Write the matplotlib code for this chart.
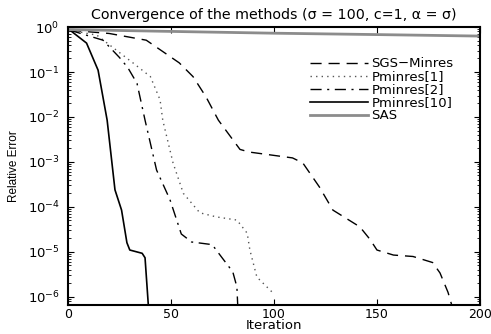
import matplotlib
matplotlib.use("Agg")
import matplotlib.pyplot as plt

plt.rcParams['font.family'] = ['DejaVu Sans']
plt.rcParams['mathtext.fontset'] = 'dejavusans'

# values (iteration, relative error)
sgs_it = [1, 20, 38, 54, 60.7, 67, 73, 83.5, 88, 109, 114, 122, 128.6, 141.7, 146.6, 150, 158, 167.5, 177, 180.6, 184.5, 187]
sgs_err = [0.85, 0.72, 0.51, 0.16, 0.079, 0.028, 0.0085, 0.0019, 0.00166, 0.00123, 0.00095, 0.00028, 8.5e-5, 3.6e-5, 1.9e-5, 1.1e-5, 8.5e-6, 7.9e-6, 5.8e-6, 3.4e-6, 1.26e-6, 5.1e-7]

p1_it = [1, 14, 31.5, 40, 44.7, 46, 51, 56, 64, 72, 82, 87, 88.3, 91.7, 99]
p1_err = [0.85, 0.66, 0.16, 0.079, 0.024, 0.0085, 0.00095, 0.0002, 7.4e-5, 6.0e-5, 5.1e-5, 2.6e-5, 1.1e-5, 2.75e-6, 1.29e-6]

p2_it = [1, 17, 25, 29, 33.5, 37.4, 43, 49.5, 55, 60, 70, 74.8, 80, 82, 82.5]
p2_err = [0.85, 0.51, 0.21, 0.126, 0.056, 0.0085, 0.00066, 0.000145, 2.5e-5, 1.66e-5, 1.45e-5, 7.4e-6, 3.6e-6, 1.66e-6, 5.1e-7]

p10_it = [1, 9, 14.6, 19, 22.8, 26, 28.6, 30, 36, 37.4, 39]
p10_err = [0.85, 0.44, 0.11, 0.0085, 0.00024, 8.5e-5, 1.6e-5, 1.1e-5, 9.3e-6, 7.4e-6, 6.5e-7]

sas_it = [0, 50, 100, 150, 200]
sas_err = [0.88, 0.80, 0.73, 0.68, 0.63]

fig = plt.figure(figsize=(4.91, 3.34), dpi=100)
ax = fig.add_axes([0.1385, 0.087, 0.839, 0.832])

ax.semilogy(sgs_it, sgs_err, color='black', lw=1.0, dashes=(8, 5), label='SGS\u2212Minres')
ax.semilogy(p1_it, p1_err, color='#555555', lw=1.0, dashes=(1, 3), label='Pminres[1]')
ax.semilogy(p2_it, p2_err, color='black', lw=1.0, dashes=(8, 4, 1.5, 4), label='Pminres[2]')
ax.semilogy(p10_it, p10_err, color='black', lw=1.2, label='Pminres[10]')
ax.semilogy(sas_it, sas_err, color='#8c8c8c', lw=2.0, label='SAS')

ax.set_xlim(0, 200)
ax.set_ylim(10 ** -6.18, 1)
ax.set_xticks([0, 50, 100, 150, 200])
ax.tick_params(which='both', direction='in', top=True, right=True, labelsize=9.5)
ax.tick_params(axis='x', pad=2, labelsize=9)
ax.tick_params(axis='y', pad=6)
ax.tick_params(which='major', length=4)
ax.tick_params(which='minor', length=2)
for s in ax.spines.values():
    s.set_linewidth(1.5)

ax.set_title('Convergence of the methods (\u03c3 = 100, c=1, \u03b1 = \u03c3)', fontsize=10.3, pad=6)
ax.set_xlabel('Iteration', fontsize=9.5, labelpad=-1)
ax.set_ylabel('Relative Error', fontsize=8.5, family=['Liberation Sans'])
ax.yaxis.set_label_coords(-0.117, 0.5)

ax.legend(loc='upper left', bbox_to_anchor=(0.575, 0.91), frameon=False, fontsize=9.5,
          handlelength=4.4, handletextpad=0.25, labelspacing=0.0, borderaxespad=0)

fig.savefig('out.png', dpi=100)
